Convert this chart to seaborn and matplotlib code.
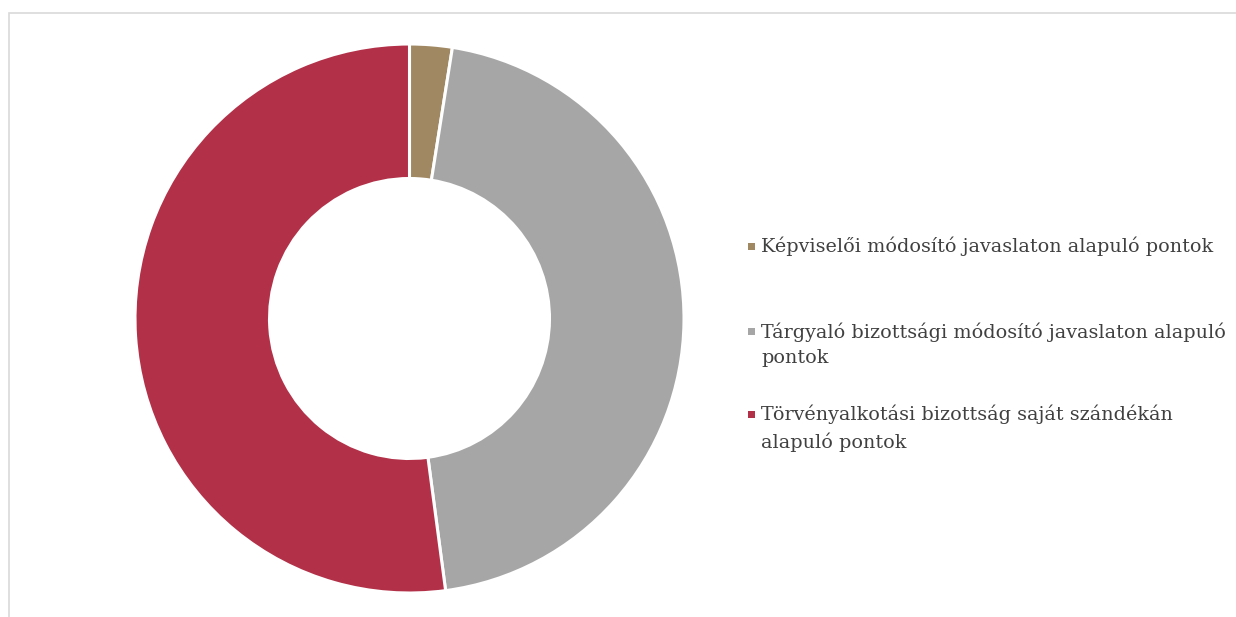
import matplotlib
matplotlib.use("Agg")
import matplotlib.pyplot as plt
import seaborn as sns
from matplotlib.patches import Rectangle

# Adatok
categories = [
    "Képviselői módosító javaslaton alapuló pontok",
    "Tárgyaló bizottsági módosító javaslaton alapuló\npontok",
    "Törvényalkotási bizottság saját szándékán\nalapuló pontok",
]
shares = [2.5, 45.4, 52.1]
colors = ["#A08862", "#A6A6A6", "#B23048"]

sns.set_theme(style="white")
plt.rcParams["font.family"] = ["DejaVu Serif"]

W, H = 1236, 617
fig = plt.figure(figsize=(W / 100, H / 100), dpi=100)

# keret (bal + felső vonal)
fig.patches.append(Rectangle((9 / W, -0.1), 1.2, 1 - 13 / H + 0.1, transform=fig.transFigure,
                             fill=False, edgecolor="#D9D9D9", linewidth=1.2))

# fánk diagram
cx, cy, r = 409.5, 617 - 318.5, 274.5
ax = fig.add_axes([(cx - r) / W, (cy - r) / H, 2 * r / W, 2 * r / H])
ax.pie(shares, colors=colors, startangle=90, counterclock=False,
       wedgeprops=dict(width=0.49, edgecolor="white", linewidth=2.2))
ax.set_xlim(-1, 1)
ax.set_ylim(-1, 1)
ax.set_aspect("equal")
ax.axis("off")

# jelmagyarázat kézzel (a négyzet az első sorhoz igazodik)
legend_y = [246, 331, 414]
for label, col, y in zip(categories, colors, legend_y):
    fig.patches.append(Rectangle((748 / W, 1 - (y + 4) / H), 7 / W, 7 / H,
                                 transform=fig.transFigure, facecolor=col, edgecolor="none"))
    fig.text(761 / W, 1 - (y - 9) / H, label, fontsize=13.8, color="#404040",
             va="top", ha="left", linespacing=1.52)

plt.savefig("out.png", dpi=100)
